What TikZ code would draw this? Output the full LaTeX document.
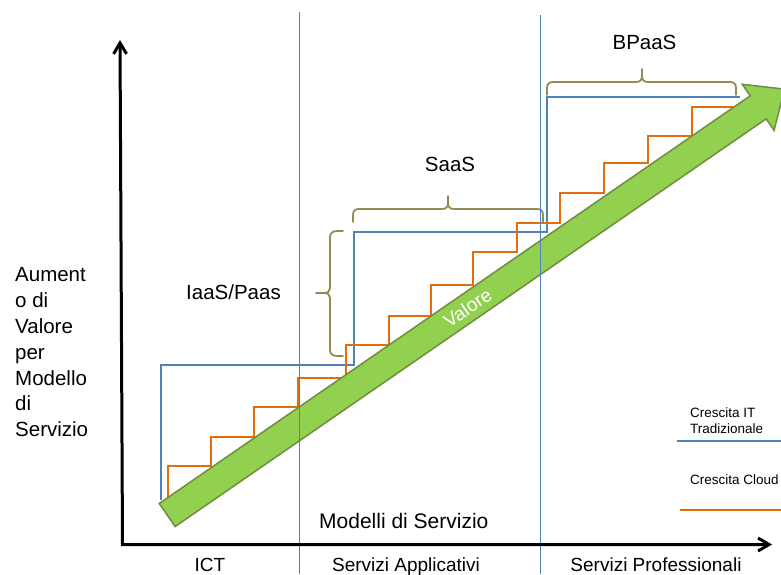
\documentclass[tikz,border=0pt]{standalone}
\usepackage{fontspec}
\setmainfont{Liberation Sans}
\usetikzlibrary{arrows.meta}

\definecolor{tradblue}{RGB}{79,129,189}
\definecolor{cloudorange}{RGB}{228,108,10}
\definecolor{bracetan}{RGB}{148,138,84}
\definecolor{valgreen}{RGB}{146,208,80}
\definecolor{valedge}{RGB}{113,140,60}

\tikzset{
  axisline/.style={line width=3pt, line join=miter,
    {Straight Barb[length=11pt,width=13pt,line width=3pt]}-{Straight Barb[length=11pt,width=13pt,line width=3pt]}},
  divider/.style={draw=tradblue, line width=1pt},
  tradline/.style={draw=tradblue, line width=2pt},
  cloudline/.style={draw=cloudorange, line width=2pt},
  curly/.style={draw=bracetan, line width=1.8pt, line cap=round, line join=round},
  valarrow/.style={fill=valgreen, draw=valedge, line width=1.5pt, line join=miter},
  lbl/.style={inner sep=0pt, font=\fontsize{19}{22}\selectfont},
  bracelbl/.style={inner sep=0pt, font=\fontsize{20.5}{24}\selectfont},
  bigtext/.style={inner sep=0pt, font=\fontsize{21}{24}\selectfont},
  legtext/.style={inner sep=0pt, font=\fontsize{13.5}{15.5}\selectfont, align=left}
}

\begin{document}
\begin{tikzpicture}[x=1pt,y=-1pt]
\useasboundingbox (0,0) rectangle (781,574);
\clip (0,0) rectangle (781,574);

% traditional IT growth (blue steps)
\draw[tradline] (161,500) -- (161,364.5) -- (354,364.5) -- (354,231.5)
  -- (547,231.5) -- (547,96.5) -- (740,96.5);

% cloud growth (orange staircase)
\draw[cloudline] (168,497) -- (168,466) -- (211,466) -- (211,437) -- (254,437)
  -- (254,407) -- (298,407) -- (298,378) -- (346,378) -- (346,345) -- (389,345)
  -- (389,316) -- (431,316) -- (431,285) -- (473,285) -- (473,252) -- (517,252)
  -- (517,223) -- (560,223) -- (560,193) -- (604,193) -- (604,163) -- (648,163)
  -- (648,136) -- (692,136) -- (692,107) -- (734,107);

% braces
\draw[curly] (343,231) -- (337,231) .. controls (333,231) and (330,233) .. (330,237)
  -- (330,288) .. controls (330,291) and (328,293) .. (324,293) -- (316,293)
  -- (324,293) .. controls (328,293) and (330,295) .. (330,298)
  -- (330,350) .. controls (330,354) and (333,356) .. (337,356) -- (343,356);
\draw[curly] (353,222) -- (353,215) .. controls (353,211) and (355,209) .. (359,209)
  -- (442,209) .. controls (446,209) and (448,207) .. (448,203) -- (448,196)
  -- (448,203) .. controls (448,207) and (450,209) .. (454,209)
  -- (537,209) .. controls (541,209) and (543,211) .. (543,215) -- (543,222);
\draw[curly] (547,95) -- (547,88) .. controls (547,84) and (549,82) .. (553,82)
  -- (636,82) .. controls (640,82) and (642,80) .. (642,76) -- (642,69)
  -- (642,76) .. controls (642,80) and (644,82) .. (648,82)
  -- (730,82) .. controls (734,82) and (736,84) .. (736,88) -- (736,95);

% value arrow
\begin{scope}[shift={(167.2,515)}, rotate=34.6]
  \filldraw[valarrow] (0,-14) -- (718,-14) -- (718,-28) -- (750,0)
    -- (718,28) -- (718,14) -- (0,14) -- cycle;
  \node[lbl, text=white, transform shape] (valore) at (365,0) {Valore};
\end{scope}

% column dividers
\draw[divider] (299,12) -- (299,574);
\draw[divider] (540,15) -- (540,574);

% axes
\coordinate (ytip) at (120,40);
\coordinate (origin) at (122.5,544.5);
\coordinate (xtip) at (772,544.5);
\draw[axisline] (ytip) -- (origin) -- (xtip);

% labels
\node[lbl, anchor=base] (ict) at (210,571.5) {ICT};
\node[lbl, anchor=base] (sapp) at (406,571.5) {Servizi Applicativi};
\node[lbl, anchor=base] (sprof) at (656,571.5) {Servizi Professionali};
\node[bigtext, anchor=base west] (modelli) at (319,528.3) {Modelli di Servizio};
\node[bracelbl, anchor=base] (iaas) at (233.5,299) {IaaS/Paas};
\node[bracelbl, anchor=base] (saas) at (450,171.7) {SaaS};
\node[bracelbl, anchor=base] (bpaas) at (644.5,49.3) {BPaaS};
\node[inner sep=0pt, font=\fontsize{20.5}{25.8}\selectfont, align=left, anchor=base west]
  (ylabel) at (15,436.7) {Aument\\o di\\Valore\\per\\Modello\\di\\Servizio};

% legend
\node[legtext, anchor=base west] (legtrad) at (690,433) {Crescita IT\\Tradizionale};
\draw[tradline] (677,441) -- (781,441);
\node[legtext, anchor=base west] (legcloud) at (690,484) {Crescita Cloud};
\draw[cloudline] (680,510) -- (781,510);
\end{tikzpicture}
\end{document}
